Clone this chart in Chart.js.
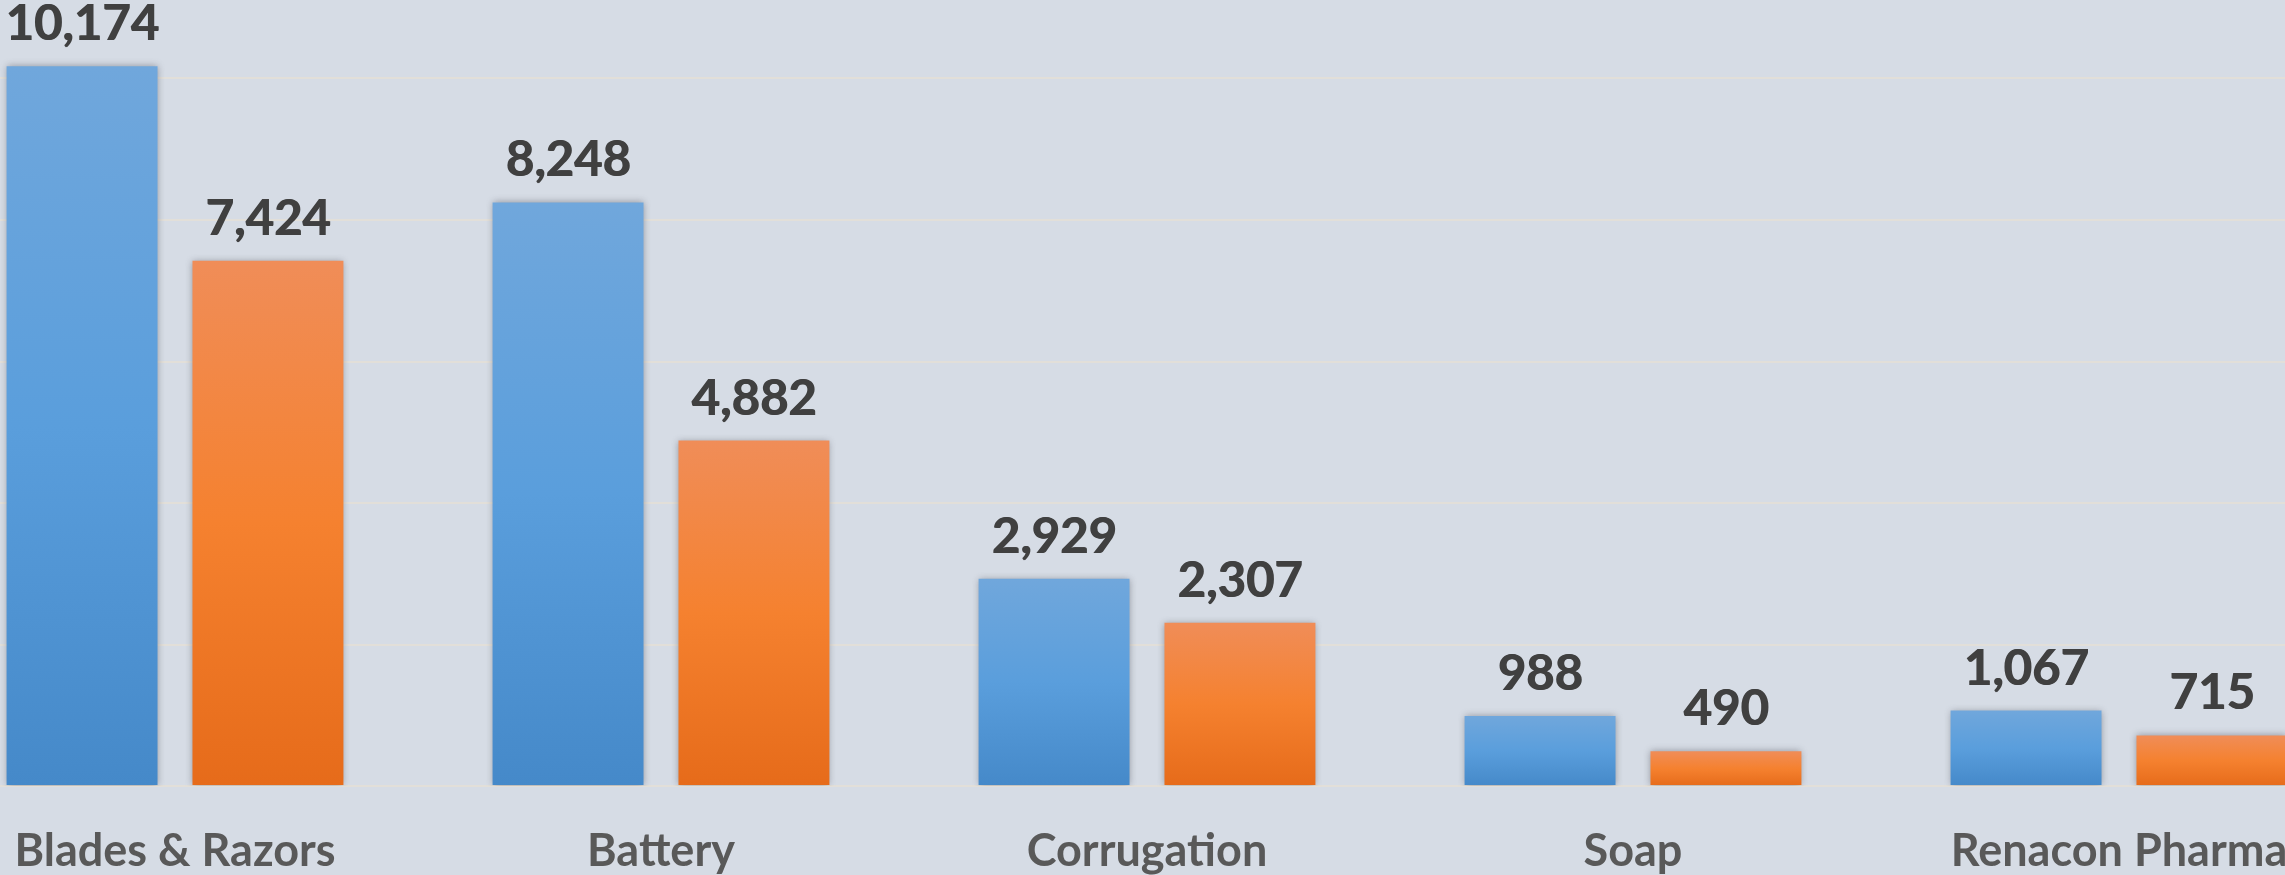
<!DOCTYPE html>
<html>
<head>
<meta charset="utf-8">
<script src="https://cdn.jsdelivr.net/npm/chart.js@4.4.1/dist/chart.umd.min.js"></script>
<style>
  html, body { margin: 0; padding: 0; overflow: hidden; background: #d6dce5; width: 2285px; height: 875px; }
  #wrap { position: absolute; left: -68px; top: -63px; }
</style>
</head>
<body>
<div id="wrap"><canvas id="chart" width="2430" height="938"></canvas></div>
<script>
const categories = ['Blades & Razors', 'Battery', 'Corrugation', 'Soap', 'Renacon Pharma'];
const seriesA = [10174, 8248, 2929, 988, 1067];
const seriesB = [7424, 4882, 2307, 490, 715];
const yTicks = [0, 2000, 4000, 6000, 8000, 10000, 12000];

const FONT = 'Lato, "Open Sans", sans-serif';

function barGradient(mid, top, bottom) {
  return function (c) {
    const chart = c.chart;
    if (!chart.chartArea || c.type !== 'data') return bottom;
    const y = chart.scales.y;
    const y0 = y.getPixelForValue(c.raw);
    const y1 = y.getPixelForValue(0);
    const g = chart.ctx.createLinearGradient(0, y0, 0, y1);
    g.addColorStop(0, top);
    g.addColorStop(0.5, mid);
    g.addColorStop(1, bottom);
    return g;
  };
}

const shadowPlugin = {
  id: 'barShadow',
  beforeDatasetsDraw(chart) {
    const c = chart.ctx;
    c.save();
    c.shadowColor = 'rgba(60,60,70,0.45)';
    c.shadowBlur = 7;
    c.shadowOffsetX = 0;
    c.shadowOffsetY = 0;
  },
  afterDatasetsDraw(chart) {
    chart.ctx.restore();
  }
};

const valueLabels = {
  id: 'valueLabels',
  afterDraw(chart) {
    const c = chart.ctx;
    c.save();
    c.font = 'bold 49px ' + FONT;
    c.fillStyle = '#404040';
    c.textAlign = 'center';
    c.textBaseline = 'alphabetic';
    chart.data.datasets.forEach((ds, i) => {
      chart.getDatasetMeta(i).data.forEach((bar, j) => {
        const txt = ds.data[j].toLocaleString('en-US');
        c.fillText(txt, bar.x, bar.y - 26);
        c.fillText(txt, bar.x + 1, bar.y - 26);
      });
    });
    c.restore();
  }
};

function draw() {
  new Chart(document.getElementById('chart'), {
    type: 'bar',
    data: {
      labels: categories,
      datasets: [
        {
          label: 'A',
          data: seriesA,
          backgroundColor: barGradient('#5a9edc', '#70a7dc', '#4589c9'),
          categoryPercentage: 0.765,
          barPercentage: 0.812
        },
        {
          label: 'B',
          data: seriesB,
          backgroundColor: barGradient('#f5812f', '#f08d58', '#e66b1a'),
          categoryPercentage: 0.765,
          barPercentage: 0.812
        }
      ]
    },
    options: {
      responsive: false,
      animation: false,
      devicePixelRatio: 1,
      layout: { padding: 0 },
      plugins: { legend: { display: false }, tooltip: { enabled: false } },
      scales: {
        x: {
          grid: { display: false },
          border: { display: false },
          ticks: { color: '#595959', font: { family: FONT, size: 45, weight: 'bold' }, padding: 30, maxRotation: 0, autoSkip: false },
          afterFit: s => { s.height = 89; }
        },
        y: {
          min: 0,
          max: 12000,
          afterBuildTicks: s => { s.ticks = yTicks.map(v => ({ value: v })); },
          ticks: { display: false },
          grid: { color: '#e2dfd9', lineWidth: 2, drawTicks: false },
          border: { display: false },
          afterFit: s => { s.width = 0; }
        }
      }
    },
    plugins: [shadowPlugin, valueLabels]
  });
}

if (document.fonts && document.fonts.load) {
  Promise.all([document.fonts.load('bold 49px Lato'), document.fonts.load('bold 45px Lato')]).then(draw, draw);
} else {
  draw();
}
</script>
</body>
</html>
